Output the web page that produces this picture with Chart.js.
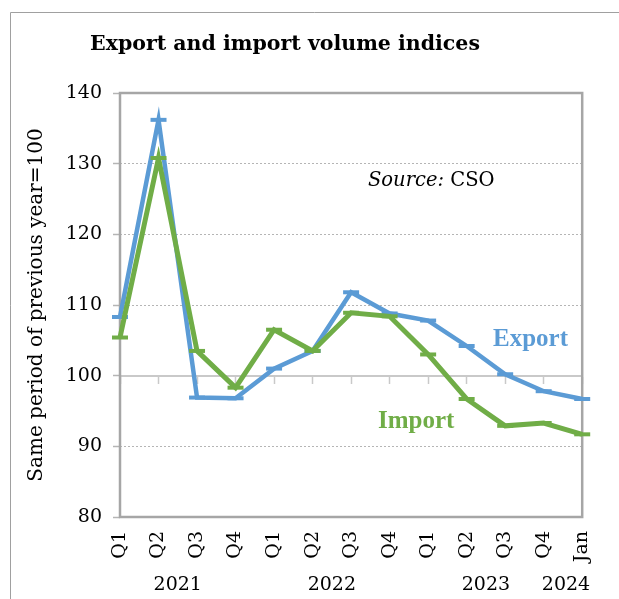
<!DOCTYPE html>
<html>
<head>
<meta charset="utf-8">
<title>Export and import volume indices</title>
<script src="https://cdn.jsdelivr.net/npm/chart.js@4.4.0/dist/chart.umd.min.js"></script>
<style>
  html, body { margin: 0; padding: 0; background: #fff; }
  #wrap { width: 619px; height: 599px; }
</style>
</head>
<body>
<div id="wrap"><canvas id="volumeChart" width="619" height="599"></canvas></div>
<script>
// quarterly volume indices, same period of previous year = 100
const periods = ['Q1', 'Q2', 'Q3', 'Q4', 'Q1', 'Q2', 'Q3', 'Q4', 'Q1', 'Q2', 'Q3', 'Q4', 'Jan'];
const periodYears = ['2021', '2021', '2021', '2021', '2022', '2022', '2022', '2022', '2023', '2023', '2023', '2023', '2024'];
const exportIndex = [108.3, 136.2, 96.9, 96.8, 101.0, 103.5, 111.8, 108.8, 107.8, 104.2, 100.2, 97.8, 96.7];
const importIndex = [105.4, 130.8, 103.5, 98.3, 106.5, 103.5, 108.9, 108.4, 103.0, 96.7, 92.9, 93.3, 91.7];
const yTicks = [80, 90, 100, 110, 120, 130, 140];

const BLUE = '#5b9bd5';
const GREEN = '#70ad47';
const FRAME = '#a6a6a6';
const SERIF = '"DejaVu Serif", serif';

// frame, heading, year row and series names
const decorations = {
    id: 'decorations',
    beforeDraw(chart) {
        const ctx = chart.ctx;
        ctx.save();
        ctx.strokeStyle = '#a0a0a0';
        ctx.lineWidth = 1;
        ctx.beginPath();
        ctx.moveTo(10.5, chart.height);
        ctx.lineTo(10.5, 12.5);
        ctx.lineTo(chart.width, 12.5);
        ctx.stroke();
        ctx.restore();
    },
    beforeDatasetsDraw(chart) {
        const { ctx, chartArea: a } = chart;
        ctx.save();
        ctx.strokeStyle = FRAME;
        ctx.lineWidth = 2.5;
        ctx.strokeRect(a.left, a.top, a.right - a.left, a.bottom - a.top);
        ctx.restore();
    },
    afterDraw(chart) {
        const { ctx, chartArea: a } = chart;
        const xs = chart.scales.x;
        ctx.save();
        ctx.fillStyle = '#000';
        ctx.textBaseline = 'alphabetic';

        ctx.font = 'bold 20.5px ' + SERIF;
        ctx.textAlign = 'center';
        ctx.fillText('Export and import volume indices', 285, 50);

        // Source note: italic word, upright agency
        ctx.textAlign = 'left';
        ctx.font = 'italic 19.5px ' + SERIF;
        const src = 'Source:';
        ctx.fillText(src, 368, 186);
        const w = ctx.measureText(src).width;
        ctx.font = '19.5px ' + SERIF;
        ctx.fillText(' CSO', 368 + w, 186);

        // year row under the quarter labels
        ctx.font = '19px ' + SERIF;
        ctx.textAlign = 'center';
        const years = [...new Set(periodYears)];
        years.forEach(yr => {
            const idx = periodYears.map((p, i) => p === yr ? i : -1).filter(i => i >= 0);
            let cx = idx.reduce((s, i) => s + xs.getPixelForValue(i), 0) / idx.length;
            const half = ctx.measureText(yr).width / 2;
            if (cx + half > a.right + 8) cx = a.right + 8 - half;
            ctx.fillText(yr, cx, 590);
        });

        ctx.font = 'bold 25px "Liberation Serif", serif';
        ctx.textAlign = 'left';
        ctx.fillStyle = BLUE;
        ctx.fillText('Export', 493, 346);
        ctx.fillStyle = GREEN;
        ctx.fillText('Import', 378, 428);
        ctx.restore();
    }
};

const ctx = document.getElementById('volumeChart');
new Chart(ctx, {
    type: 'line',
    data: {
        labels: periods,
        datasets: [
            {
                label: 'Import',
                data: importIndex,
                borderColor: GREEN,
                backgroundColor: GREEN,
                borderWidth: 5
            },
            {
                label: 'Export',
                data: exportIndex,
                borderColor: BLUE,
                backgroundColor: BLUE,
                borderWidth: 4.5
            }
        ].map(ds => Object.assign(ds, {
            tension: 0,
            fill: false,
            clip: false,
            pointStyle: 'line',
            pointRadius: 8,
            pointBorderWidth: 4,
            pointBorderColor: ds.borderColor,
            pointHoverRadius: 8
        }))
    },
    options: {
        responsive: false,
        animation: false,
        devicePixelRatio: 1,
        layout: { padding: { top: 93, right: 35, left: 0, bottom: 0 } },
        plugins: {
            legend: { display: false },
            tooltip: { enabled: false },
            title: { display: false }
        },
        scales: {
            x: {
                type: 'category',
                position: 'bottom',
                grid: { display: false, drawTicks: false },
                border: { display: false },
                ticks: {
                    autoSkip: false,
                    minRotation: 90,
                    maxRotation: 90,
                    padding: 14,
                    color: '#000',
                    font: { family: SERIF, size: 19 }
                },
                afterFit(scale) { scale.height = 82; }
            },
            // category axis crossing the value scale at 100
            xCross: {
                type: 'category',
                position: { y: 100 },
                grid: {
                    drawOnChartArea: false,
                    drawTicks: true,
                    tickLength: 7,
                    tickWidth: 1.5,
                    tickColor: '#c9c9c9'
                },
                border: { display: true, color: '#c9c9c9', width: 2 },
                ticks: { display: false },
                afterFit(scale) { scale.height = 0; }
            },
            y: {
                min: yTicks[0],
                max: yTicks[yTicks.length - 1],
                afterBuildTicks(scale) { scale.ticks = yTicks.map(v => ({ value: v })); },
                grid: {
                    color: c => (c.tick && [90, 110, 120, 130].includes(c.tick.value)) ? '#b5b5b5' : 'rgba(0,0,0,0)',
                    lineWidth: 1,
                    drawTicks: true,
                    tickLength: 7,
                    tickWidth: 1.5,
                    tickColor: '#b5b5b5'
                },
                border: { display: false, dash: [2, 2] },
                ticks: {
                    padding: 11,
                    color: '#000',
                    font: { family: SERIF, size: 19 }
                },
                title: {
                    display: true,
                    text: 'Same period of previous year=100',
                    color: '#000',
                    font: { family: SERIF, size: 20 },
                    padding: { top: 25, bottom: 0 }
                },
                afterFit(scale) { scale.width = 120; }
            }
        }
    },
    plugins: [decorations]
});
</script>
</body>
</html>
